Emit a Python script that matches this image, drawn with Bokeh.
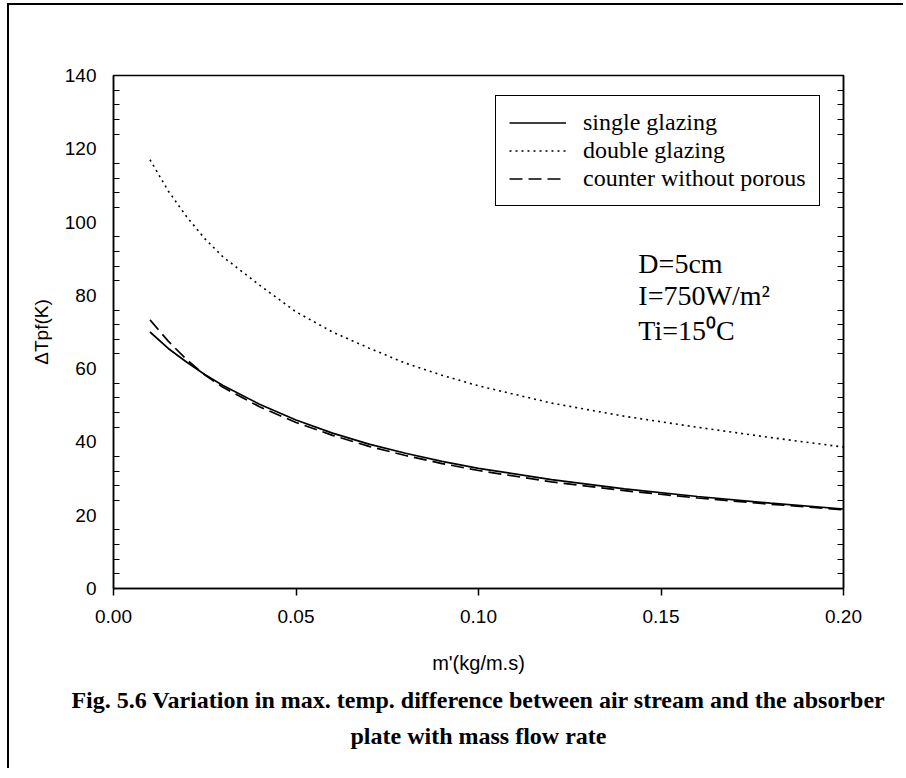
from bokeh.plotting import figure
from bokeh.models import (Range1d, Legend, LegendItem, Label, LinearAxis, FixedTicker,
                          NumeralTickFormatter, Title)
from bokeh.embed import file_html
from bokeh.resources import INLINE

# ---- data ----
mass_flow = [0.01, 0.015, 0.02, 0.025, 0.03, 0.04, 0.05, 0.06, 0.07, 0.08, 0.09,
             0.10, 0.12, 0.14, 0.16, 0.18, 0.20]
single_glazing = [70.0, 65.5, 61.8, 58.4, 55.4, 50.3, 46.0, 42.4, 39.4, 36.9, 34.7,
                  32.8, 29.7, 27.2, 25.1, 23.3, 21.7]
double_glazing = [117.0, 108.5, 101.5, 95.5, 90.5, 82.8, 75.5, 70.0, 65.6, 61.5, 58.2,
                  55.3, 50.6, 47.0, 44.0, 41.2, 38.6]
counter_without_porous = [73.3, 67.5, 62.5, 58.3, 54.9, 49.6, 45.3, 41.8, 38.8, 36.3, 34.1,
                          32.2, 29.1, 26.7, 24.7, 23.0, 21.5]

x_ticks = [0.0, 0.05, 0.10, 0.15, 0.20]
y_ticks = [0, 20, 40, 60, 80, 100, 120, 140]
y_minor = [t + k * 4 for t in y_ticks[:-1] for k in range(1, 5)]

series_names = ["single glazing", "double glazing", "counter without porous"]
info_lines = ["D=5cm", "I=750W/m\u00b2", "Ti=15\u2070C"]
caption_lines = ["Fig. 5.6 Variation in max. temp. difference between air stream and the absorber",
                 "plate with mass flow rate"]

W, H = 896, 765
ML, MT, FW, FH = 104, 70, 730, 513
p = figure(width=W, height=H, output_backend="svg", toolbar_location=None,
           x_range=Range1d(0, 0.2), y_range=Range1d(0, 140),
           min_border_left=ML, min_border_right=W - ML - FW,
           min_border_top=MT, min_border_bottom=H - MT - FH,
           x_axis_label="m'(kg/m.s)", y_axis_label="\u0394Tpf(K)")
p.styles = {"border-top": "2px solid black", "border-left": "2px solid black",
            "margin-top": "3px", "margin-left": "7px"}
p.xgrid.visible = False
p.ygrid.visible = False
p.outline_line_color = "black"
p.outline_line_width = 1.5
p.outline_line_alpha = 1.0
p.background_fill_color = "white"
p.border_fill_color = "white"

sans = "Liberation Sans"
serif = "Liberation Serif"

xa = p.xaxis[0]
xa.ticker = FixedTicker(ticks=x_ticks)
xa.formatter = NumeralTickFormatter(format="0.00")
xa.major_tick_out = 7
xa.major_tick_in = 0
xa.minor_tick_out = 0
xa.minor_tick_in = 0
xa.major_label_standoff = 14
xa.axis_line_width = 1.5
xa.major_tick_line_width = 1.5
xa.major_label_text_font = sans
xa.major_label_text_font_size = "19px"
xa.major_label_text_color = "black"
xa.axis_label_text_font = sans
xa.axis_label_text_font_size = "20px"
xa.axis_label_text_font_style = "normal"
xa.axis_label_text_color = "black"
xa.axis_label_standoff = 26

ya = p.yaxis[0]
ya.ticker = FixedTicker(ticks=y_ticks, minor_ticks=y_minor)
ya.major_tick_out = 0
ya.major_tick_in = 0
ya.minor_tick_in = 6
ya.minor_tick_out = 0
ya.major_label_standoff = 17
ya.axis_line_width = 1.5
ya.minor_tick_line_width = 1.2
ya.major_label_text_font = sans
ya.major_label_text_font_size = "19px"
ya.major_label_text_color = "black"
ya.axis_label_text_font = sans
ya.axis_label_text_font_size = "19px"
ya.axis_label_text_font_style = "normal"
ya.axis_label_text_color = "black"
ya.axis_label_standoff = 10

ra = LinearAxis(ticker=FixedTicker(ticks=y_ticks, minor_ticks=y_minor))
ra.major_label_text_color = None
ra.major_tick_in = 0
ra.major_tick_out = 0
ra.minor_tick_in = 6
ra.minor_tick_out = 0
ra.axis_line_width = 1.5
ra.minor_tick_line_width = 1.2
p.add_layout(ra, "right")

r1 = p.line(mass_flow, single_glazing, line_color="black", line_width=1.7)
r2 = p.line(mass_flow, double_glazing, line_color="black", line_width=1.6, line_dash="2 4")
r3 = p.line(mass_flow, counter_without_porous, line_color="black", line_width=1.7, line_dash="13 6")

legend = Legend(items=[LegendItem(label=series_names[0], renderers=[r1]),
                       LegendItem(label=series_names[1], renderers=[r2]),
                       LegendItem(label=series_names[2], renderers=[r3])],
                location=(382, 382))
legend.label_text_font = serif
legend.label_text_font_size = "24px"
legend.label_text_color = "black"
legend.border_line_color = "black"
legend.border_line_width = 1.5
legend.border_line_alpha = 1.0
legend.background_fill_alpha = 1.0
legend.glyph_width = 57
legend.glyph_height = 27
legend.label_height = 27
legend.label_standoff = 17
legend.padding = 13
legend.spacing = 1
legend.margin = 0
p.add_layout(legend)

info_x = 0.1438
info_y = [88.7, 80.0, 70.4]
for t, yy in zip(info_lines, info_y):
    p.add_layout(Label(x=info_x, y=yy, text=t, text_font=serif, text_font_size="28px",
                       text_color="black", text_baseline="middle", text_align="left"))

cap_standoff = [16, 0]
for t, so in zip(caption_lines, cap_standoff):
    p.add_layout(Title(text=t, align="center", offset=-8, text_font=serif,
                       text_font_size="24px", text_font_style="bold", text_color="black",
                       standoff=so), "below")

open("out.html", "w").write(file_html(p, INLINE))
